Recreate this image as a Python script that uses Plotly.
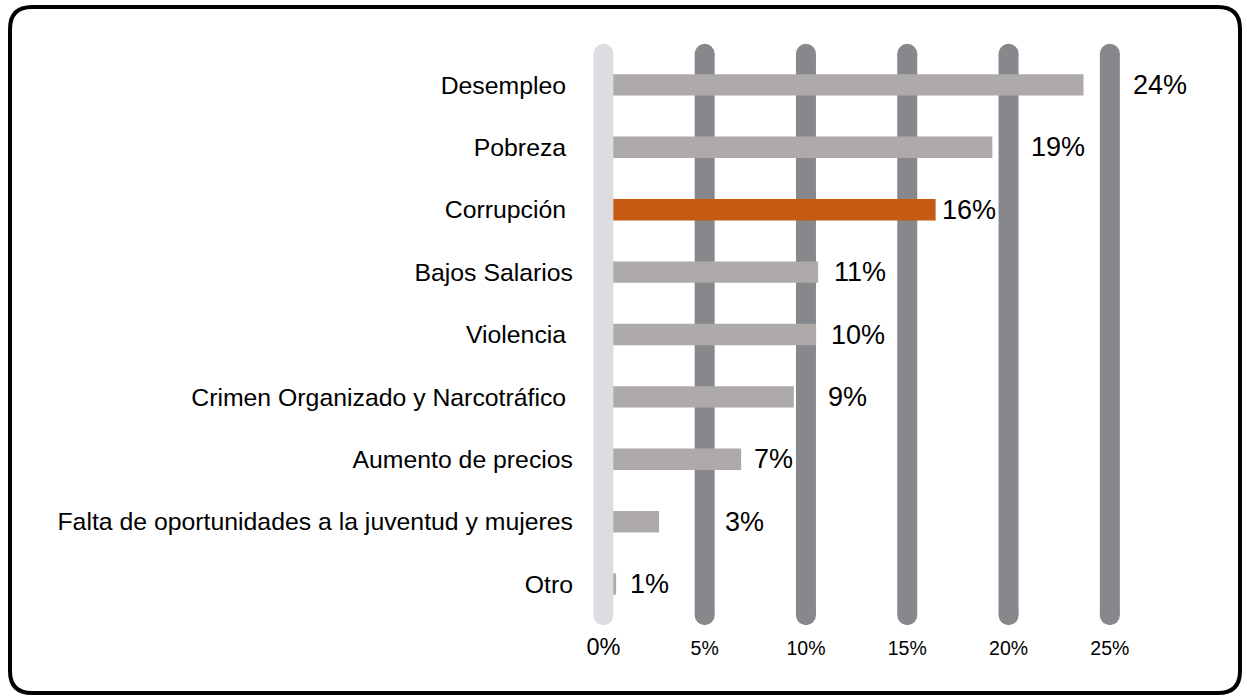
import plotly.graph_objects as go

# datos
categorias = ["Desempleo ", "Pobreza ", "Corrupción ", "Bajos Salarios", "Violencia ",
              "Crimen Organizado y Narcotráfico ", "Aumento de precios",
              "Falta de oportunidades a la juventud y mujeres", "Otro"]
valores = [23.7, 19.2, 16.4, 10.6, 10.5, 9.4, 6.8, 2.75, 0.63]
etiquetas = [24, 19, 16, 11, 10, 9, 7, 3, 1]
ticks_x = [0, 5, 10, 15, 20, 25]

# desplazamiento (px) de cada etiqueta respecto al final de la barra
desplazamiento = [47, 37, 4, 14, 13, 32, 11, 64, 12]

GRIS = "#aeaaaa"
NARANJA = "#c55a11"
GRID = "#87888c"
GRID0 = "#dcdde0"
FUENTE = "Liberation Sans, Arial, sans-serif"

colores = [NARANJA if c.startswith("Corrup") else GRIS for c in categorias]

fig = go.Figure(go.Bar(
    x=valores, y=list(range(len(categorias))), orientation="h",
    marker_color=colores, marker_line_width=0, hoverinfo="skip",
))

# lineas verticales gruesas con extremos redondeados
shapes = []
for t in ticks_x:
    col = GRID0 if t == 0 else GRID
    capa = "above" if t == 0 else "below"
    shapes.append(dict(type="line", xref="x", yref="y", x0=t, x1=t, y0=-0.5, y1=8.5,
                       line=dict(color=col, width=20), layer=capa))
    for yy in (-0.5, 8.5):
        shapes.append(dict(type="circle", xref="x", yref="y", xsizemode="pixel", ysizemode="pixel",
                           xanchor=t, yanchor=yy, x0=-10, x1=10, y0=-10, y1=10,
                           fillcolor=col, line_width=0, layer=capa))

# marco redondeado (pixeles relativos a la esquina superior izquierda del area)
L, R, T, B, r = -564, 666, 28, -658, 22
marco = (f"M {L + r},{T} L {R - r},{T} Q {R},{T} {R},{T - r} L {R},{B + r} Q {R},{B} {R - r},{B} "
         f"L {L + r},{B} Q {L},{B} {L},{B + r} L {L},{T - r} Q {L},{T} {L + r},{T} Z")
shapes.append(dict(type="path", xref="paper", yref="paper", xsizemode="pixel", ysizemode="pixel",
                   xanchor=0, yanchor=1, path=marco, line=dict(color="black", width=4),
                   fillcolor="rgba(0,0,0,0)", layer="above"))

anotaciones = []
for i, (v, e, d) in enumerate(zip(valores, etiquetas, desplazamiento)):
    anotaciones.append(dict(x=v, y=i, xref="x", yref="y", text=f"{e}%", showarrow=False,
                            xanchor="left", yanchor="middle", xshift=d,
                            font=dict(size=27, color="black", family=FUENTE)))

ticktext = ['<span style="font-size:23.5px">0%</span>'] + [f"{t}%" for t in ticks_x[1:]]

fig.update_layout(
    width=1247, height=700,
    margin=dict(l=574, r=47, t=35, b=66),
    paper_bgcolor="white", plot_bgcolor="white",
    bargap=0.657, showlegend=False,
    shapes=shapes, annotations=anotaciones,
    font=dict(family=FUENTE, color="black"),
    xaxis=dict(range=[-1.45, 29.45], tickvals=ticks_x, ticktext=ticktext,
               showgrid=False, zeroline=False, showline=False, ticks="",
               tickfont=dict(size=19.5, color="black")),
    yaxis=dict(range=[8.8, -0.8], tickvals=list(range(len(categorias))), ticktext=categorias,
               showgrid=False, zeroline=False, showline=False, ticks="",
               tickfont=dict(size=24.8, color="black")),
)

fig.write_html("out.html", config={"displayModeBar": False},
               post_script="document.body.style.margin='0';document.body.style.overflow='hidden';")
